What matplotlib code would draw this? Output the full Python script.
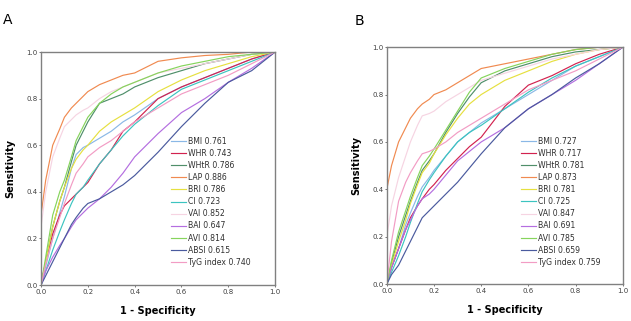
import numpy as np
import matplotlib.pyplot as plt

NAMES = ['BMI', 'WHR', 'WHtR', 'LAP', 'BRI', 'CI', 'VAI', 'BAI', 'AVI', 'ABSI', 'TyG index']
COLORS = ['#8ab8e6', '#d2224f', '#4f8f6a', '#f08a50', '#e6e040', '#3cc4c0',
          '#f6d4e2', '#b46ee0', '#86d45c', '#4a5a9e', '#f29cc4']

AUC_A = ['0.761', '0.743', '0.786', '0.886', '0.786', '0.723', '0.852', '0.647', '0.814', '0.615', '0.740']
AUC_B = ['0.727', '0.717', '0.781', '0.873', '0.781', '0.725', '0.847', '0.691', '0.785', '0.659', '0.759']

# common false positive rates for the read-off points
FPR = [0.0, 0.02, 0.05, 0.08, 0.1, 0.13, 0.15, 0.18, 0.2, 0.25, 0.3, 0.35, 0.4, 0.5, 0.6, 0.7, 0.8, 0.9, 1.0]

# panel A sensitivities
TPR_A = {
    'BMI':  [0, 0.08, 0.2, 0.31, 0.38, 0.5, 0.56, 0.59, 0.6, 0.63, 0.66, 0.7, 0.73, 0.8, 0.85, 0.89, 0.93, 0.97, 1.0],
    'WHR':  [0, 0.1, 0.22, 0.3, 0.34, 0.37, 0.39, 0.42, 0.44, 0.52, 0.58, 0.66, 0.7, 0.8, 0.85, 0.89, 0.93, 0.97, 1.0],
    'WHtR': [0, 0.1, 0.25, 0.36, 0.42, 0.53, 0.6, 0.66, 0.7, 0.78, 0.8, 0.82, 0.85, 0.89, 0.92, 0.95, 0.97, 0.99, 1.0],
    'LAP':  [0.3, 0.45, 0.6, 0.67, 0.72, 0.76, 0.78, 0.81, 0.83, 0.86, 0.88, 0.9, 0.91, 0.96, 0.975, 0.985, 0.99, 1.0, 1.0],
    'BRI':  [0, 0.1, 0.25, 0.36, 0.42, 0.5, 0.54, 0.58, 0.6, 0.66, 0.7, 0.73, 0.76, 0.83, 0.88, 0.92, 0.95, 0.98, 1.0],
    'CI':   [0, 0.06, 0.15, 0.23, 0.28, 0.35, 0.39, 0.42, 0.45, 0.52, 0.58, 0.64, 0.69, 0.77, 0.84, 0.88, 0.92, 0.96, 1.0],
    'VAI':  [0.25, 0.4, 0.55, 0.63, 0.68, 0.71, 0.73, 0.75, 0.76, 0.8, 0.83, 0.85, 0.87, 0.91, 0.93, 0.95, 0.97, 0.99, 1.0],
    'BAI':  [0, 0.06, 0.12, 0.17, 0.2, 0.25, 0.28, 0.31, 0.33, 0.37, 0.42, 0.48, 0.55, 0.65, 0.74, 0.8, 0.87, 0.93, 1.0],
    'AVI':  [0, 0.12, 0.3, 0.4, 0.45, 0.55, 0.62, 0.68, 0.72, 0.78, 0.82, 0.85, 0.87, 0.91, 0.94, 0.96, 0.98, 0.99, 1.0],
    'ABSI': [0, 0.04, 0.1, 0.16, 0.2, 0.26, 0.29, 0.33, 0.35, 0.37, 0.4, 0.43, 0.47, 0.57, 0.68, 0.78, 0.87, 0.92, 1.0],
    'TyG index': [0, 0.09, 0.2, 0.29, 0.35, 0.43, 0.48, 0.52, 0.55, 0.59, 0.62, 0.66, 0.7, 0.76, 0.82, 0.86, 0.9, 0.95, 1.0],
}

# panel B sensitivities
TPR_B = {
    'BMI':  [0, 0.07, 0.15, 0.25, 0.3, 0.37, 0.41, 0.45, 0.48, 0.54, 0.6, 0.64, 0.68, 0.74, 0.8, 0.86, 0.92, 0.96, 1.0],
    'WHR':  [0, 0.07, 0.15, 0.23, 0.28, 0.33, 0.36, 0.4, 0.42, 0.48, 0.53, 0.58, 0.62, 0.75, 0.84, 0.88, 0.93, 0.97, 1.0],
    'WHtR': [0, 0.09, 0.2, 0.29, 0.35, 0.43, 0.48, 0.52, 0.55, 0.64, 0.72, 0.79, 0.85, 0.9, 0.93, 0.96, 0.98, 0.99, 1.0],
    'LAP':  [0.4, 0.5, 0.6, 0.66, 0.7, 0.74, 0.76, 0.78, 0.8, 0.82, 0.85, 0.88, 0.91, 0.93, 0.95, 0.97, 0.99, 1.0, 1.0],
    'BRI':  [0, 0.08, 0.18, 0.27, 0.34, 0.42, 0.47, 0.51, 0.55, 0.63, 0.7, 0.76, 0.8, 0.86, 0.9, 0.94, 0.97, 0.99, 1.0],
    'CI':   [0, 0.05, 0.12, 0.2, 0.26, 0.34, 0.39, 0.44, 0.47, 0.54, 0.6, 0.64, 0.67, 0.74, 0.81, 0.87, 0.92, 0.96, 1.0],
    'VAI':  [0.2, 0.33, 0.45, 0.54, 0.6, 0.67, 0.71, 0.72, 0.73, 0.77, 0.8, 0.83, 0.86, 0.89, 0.92, 0.95, 0.97, 0.99, 1.0],
    'BAI':  [0, 0.07, 0.15, 0.23, 0.27, 0.33, 0.36, 0.38, 0.4, 0.46, 0.52, 0.56, 0.6, 0.66, 0.74, 0.8, 0.86, 0.93, 1.0],
    'AVI':  [0, 0.1, 0.22, 0.31, 0.37, 0.45, 0.5, 0.54, 0.57, 0.65, 0.73, 0.81, 0.87, 0.91, 0.94, 0.97, 0.99, 1.0, 1.0],
    'ABSI': [0, 0.04, 0.08, 0.14, 0.18, 0.24, 0.28, 0.31, 0.33, 0.38, 0.43, 0.49, 0.55, 0.66, 0.74, 0.8, 0.87, 0.93, 1.0],
    'TyG index': [0, 0.18, 0.35, 0.43, 0.47, 0.52, 0.55, 0.56, 0.57, 0.6, 0.64, 0.67, 0.7, 0.76, 0.82, 0.86, 0.9, 0.95, 1.0],
}

TICKS = [0.0, 0.2, 0.4, 0.6, 0.8, 1.0]


def draw_panel(ax, tpr, aucs, anchor):
    for name, color, auc in zip(NAMES, COLORS, aucs):
        ax.plot(FPR, tpr[name], color=color, lw=0.85, label=name + ' ' + auc)
    ax.set_xlim(0, 1)
    ax.set_ylim(0, 1)
    ax.set_xticks(TICKS)
    ax.set_yticks(TICKS)
    ax.set_xticklabels(['%.1f' % t for t in TICKS])
    ax.set_yticklabels(['%.1f' % t for t in TICKS])
    ax.tick_params(labelsize=5, length=1.5, width=0.5, colors='#404040', pad=1)
    for s in ax.spines.values():
        s.set_color('#808080')
        s.set_linewidth(1.0)
    ax.set_xlabel('1 - Specificity', fontsize=7, fontweight='bold', labelpad=8)
    ax.set_ylabel('Sensitivity', fontsize=7, fontweight='bold', labelpad=8)
    ax.legend(loc='lower right', bbox_to_anchor=anchor, frameon=False, fontsize=5.6,
              handlelength=1.9, handletextpad=0.3, labelspacing=0.4, labelcolor='#303030',
              borderaxespad=0)


fig = plt.figure(figsize=(6.31, 3.21), dpi=100)
ax_a = fig.add_axes([0.065, 0.112, 0.371, 0.726])
ax_b = fig.add_axes([0.613, 0.115, 0.374, 0.738])

draw_panel(ax_a, TPR_A, AUC_A, (0.91, 0.065))
draw_panel(ax_b, TPR_B, AUC_B, (0.92, 0.06))

fig.text(0.004, 0.96, 'A', fontsize=10, va='top')
fig.text(0.562, 0.955, 'B', fontsize=10, va='top')

fig.savefig('out.png', dpi=100)
